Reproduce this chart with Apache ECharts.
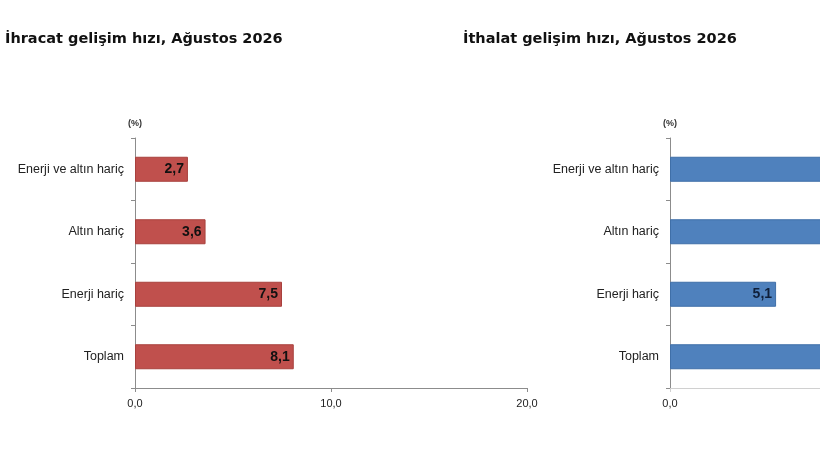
<!DOCTYPE html>
<html>
<head>
<meta charset="utf-8">
<script src="https://cdn.jsdelivr.net/npm/echarts@6/dist/echarts.min.js"></script>
<style>
  html, body { margin: 0; padding: 0; background: #fff; overflow: hidden; }
  #chart { width: 1240px; height: 460px; }
</style>
</head>
<body>
<div id="chart"></div>
<script>
// kategoriler (yukaridan asagiya)
var categories = ['Enerji ve altın hariç', 'Altın hariç', 'Enerji hariç', 'Toplam'];
// ihracat gelisim hizi (%)
var exportValues = [2.7, 3.6, 7.5, 8.1];
// ithalat gelisim hizi (%) - sag tarafta kesilen cubuklar tahmini
var importValues = [9.8, 9.2, 5.1, 8.6];
var xTicks = [0, 10, 20];

var exportTitle = 'İhracat gelişim hızı, Ağustos 2026';
var importTitle = 'İthalat gelişim hızı, Ağustos 2026';

var fontFamily = '"Liberation Sans", Arial, sans-serif';
var titleFont = '"DejaVu Sans", sans-serif';

function fmt(v) {
    return v.toFixed(1).replace('.', ',');
}

// echarts kategori ekseni asagidan yukariya ciziyor, bu yuzden ters ceviriyoruz
var cats = categories.slice().reverse();
var exp = exportValues.slice().reverse();
var imp = importValues.slice().reverse();

function yAxis(idx) {
    return {
        type: 'category',
        gridIndex: idx,
        data: cats,
        name: '(%)',
        nameLocation: 'end',
        nameGap: 10,
        nameTextStyle: { fontSize: 9, fontWeight: 'bold', color: '#333', align: 'center', fontFamily: fontFamily },
        axisLine: { show: true, lineStyle: { color: '#8c8c8c', width: 1 } },
        axisTick: { show: true, length: 4, lineStyle: { color: '#8c8c8c' } },
        axisLabel: { fontSize: 12.5, color: '#222', margin: 11, fontFamily: fontFamily }
    };
}

function xAxis(idx, lineColor) {
    return {
        type: 'value',
        gridIndex: idx,
        min: xTicks[0],
        max: xTicks[xTicks.length - 1],
        interval: xTicks[1] - xTicks[0],
        splitLine: { show: false },
        axisLine: { show: true, lineStyle: { color: lineColor, width: 1 } },
        axisTick: { show: true, length: 4, lineStyle: { color: lineColor } },
        axisLabel: {
            fontSize: 11, color: '#222', margin: 10, fontFamily: fontFamily,
            formatter: function (v) { return fmt(v); }
        }
    };
}

function barSeries(idx, values, color, border, labelColor) {
    return {
        type: 'bar',
        xAxisIndex: idx,
        yAxisIndex: idx,
        data: values,
        barWidth: 25,
        itemStyle: { color: color, borderColor: border, borderWidth: 1 },
        label: {
            show: true,
            position: 'insideRight',
            distance: 4,
            fontSize: 14,
            fontWeight: 'bold',
            color: labelColor,
            fontFamily: fontFamily,
            formatter: function (p) { return fmt(p.value); }
        }
    };
}

var myChart = echarts.init(document.getElementById('chart'));
var option = {
    animation: false,
    backgroundColor: '#fff',
    title: [
        {
            text: exportTitle, left: 0, top: 27,
            textStyle: { fontSize: 14.5, fontWeight: 'bold', color: '#111', fontFamily: titleFont }
        },
        {
            text: importTitle, left: 458, top: 27,
            textStyle: { fontSize: 14.5, fontWeight: 'bold', color: '#111', fontFamily: titleFont }
        }
    ],
    grid: [
        { left: 135, top: 138, width: 392, height: 250 },
        { left: 670, top: 138, width: 416, height: 250 }
    ],
    xAxis: [xAxis(0, '#8c8c8c'), xAxis(1, '#d0d0d0')],
    yAxis: [yAxis(0), yAxis(1)],
    series: [
        barSeries(0, exp, '#c0504d', '#a8403d', '#111'),
        barSeries(1, imp, '#4f81bd', '#3f6fa8', '#0f1f3a')
    ]
};
myChart.setOption(option);
</script>
</body>
</html>
